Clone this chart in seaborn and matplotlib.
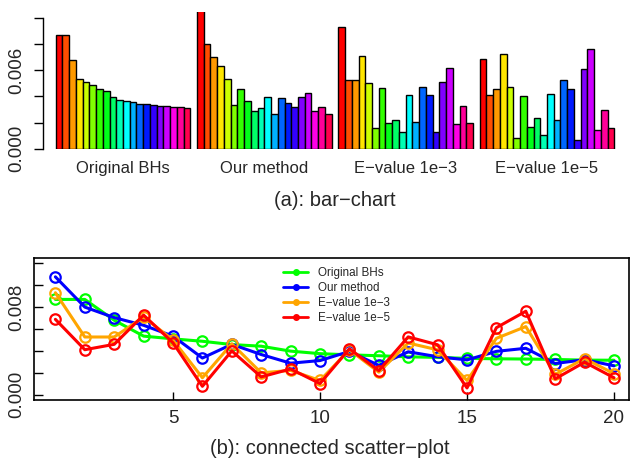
import colorsys
import matplotlib
matplotlib.use("Agg")
import matplotlib.pyplot as plt
from matplotlib.lines import Line2D
import numpy as np
import pandas as pd
import seaborn as sns

# ---------------- data ----------------
methods = ["Original BHs", "Our method", "E\u2212value 1e\u22123", "E\u2212value 1e\u22125"]
original_bhs = [8.70, 8.70, 6.80, 5.35, 5.10, 4.88, 4.58, 4.43, 3.98, 3.75,
                3.64, 3.56, 3.46, 3.41, 3.32, 3.28, 3.26, 3.22, 3.16, 3.15]
our_method = [10.76, 8.00, 7.04, 6.34, 5.35, 3.35, 4.60, 3.67, 2.88, 3.12,
              3.95, 2.68, 3.92, 3.47, 3.18, 3.96, 4.24, 2.85, 3.20, 2.64]
evalue_1e3 = [9.31, 5.27, 5.27, 7.09, 5.00, 1.55, 4.65, 2.00, 2.22, 1.30,
              4.10, 2.06, 4.72, 4.10, 1.30, 5.15, 6.22, 1.86, 3.30, 1.93]
evalue_1e5 = [6.88, 4.11, 4.60, 7.27, 4.74, 0.77, 4.00, 1.63, 2.35, 1.02,
              4.20, 2.20, 5.28, 4.56, 0.62, 6.12, 7.62, 1.45, 2.97, 1.55]
scale = 1e-3
index = list(range(1, 21))
line_colors = ["#00FF00", "#0000FF", "#FFA500", "#FF0000"]

bar_yticks = [0.000, 0.002, 0.004, 0.006, 0.008, 0.010]
bar_yticklabels = ["0.000", "", "", "0.006", "", ""]
line_yticks = [0.000, 0.002, 0.004, 0.006, 0.008, 0.010, 0.012]
line_yticklabels = ["0.000", "", "", "", "0.008", "", ""]
line_xticks = [5, 10, 15, 20]
title_a = "(a): bar\u2212chart"
title_b = "(b): connected scatter\u2212plot"

series = [original_bhs, our_method, evalue_1e3, evalue_1e5]

# ---------------- style ----------------
sns.set_style("white")
plt.rcParams["font.family"] = ["Liberation Sans", "DejaVu Sans"]
plt.rcParams["axes.unicode_minus"] = True

W, H = 630, 463
fig = plt.figure(figsize=(W / 100, H / 100), dpi=100)

def fx(px):
    return px / W

def fy(py):
    return 1 - py / H

# ---------------- bar chart ----------------
n = len(index)
bar_colors = [colorsys.hsv_to_rgb(i / n, 1, 1) for i in range(n)]
rows = []
for g, vals in enumerate(series):
    for i, v in enumerate(vals):
        rows.append({"pos": g * (n + 1) + i + 0.5, "value": v * scale,
                     "color_key": g * (n + 1) + i + 0.5, "cidx": i})
bar_df = pd.DataFrame(rows)
palette = {r["color_key"]: bar_colors[r["cidx"]] for r in rows}

unit = 6.73
x0 = 55.7
ax1 = fig.add_axes([fx(43), fy(148.5), fx(620 - 43), (148.5 - 12) / H])
sns.barplot(data=bar_df, x="pos", y="value", hue="color_key", palette=palette,
            native_scale=True, width=1.0, edgecolor="black", linewidth=1.0,
            saturation=1, errorbar=None, legend=False, ax=ax1)
ax1.set_xlim(-(x0 - 43) / unit, (620 - x0) / unit)
ax1.set_ylim(0, 0.0105)
for s in ["top", "right", "bottom"]:
    ax1.spines[s].set_visible(False)
ax1.spines["left"].set_bounds(0, 0.010)
ax1.spines["left"].set_linewidth(1.0)
ax1.spines["left"].set_color("black")
ax1.set_yticks(bar_yticks)
ax1.set_yticklabels(bar_yticklabels)
ax1.tick_params(axis="y", left=True, direction="out", length=6.5, width=1.0,
                color="black", labelsize=13.5, labelrotation=90, pad=6)
for lab in ax1.get_yticklabels():
    lab.set_va("center")
centers = [g * (n + 1) + n / 2 for g in range(len(methods))]
ax1.set_xticks(centers)
ax1.set_xticklabels(methods)
ax1.tick_params(axis="x", bottom=False, length=0, labelsize=12, pad=9)
ax1.set_xlabel("")
ax1.set_ylabel("")
ax1.patch.set_alpha(0)

fig.text(fx(335), fy(200), title_a, ha="center", va="center", fontsize=14.5)

# ---------------- connected scatter plot ----------------
ax2 = fig.add_axes([fx(34), fy(400), fx(629 - 34), (400 - 258) / H])
for vals, c in zip(series, line_colors):
    sns.lineplot(x=index, y=[v * scale for v in vals], color=c, lw=2.2,
                 marker="o", markersize=7.5, markerfacecolor="none",
                 markeredgecolor=c, markeredgewidth=1.6, ax=ax2)
ax2.set_xlim(1 - 21.4 / 29.4, 1 + (629 - 55.4) / 29.4)
ax2.set_ylim(-0.00048, 0.01248)
for s in ax2.spines.values():
    s.set_visible(True)
    s.set_color("black")
    s.set_linewidth(1.2)
ax2.set_yticks(line_yticks)
ax2.set_yticklabels(line_yticklabels)
ax2.set_xticks(line_xticks)
ax2.set_xticklabels([str(t) for t in line_xticks])
ax2.tick_params(axis="y", left=True, direction="in", length=6.5, width=1.0,
                color="black", labelsize=13.5, labelrotation=90, pad=6.5)
for lab in ax2.get_yticklabels():
    lab.set_va("center")
ax2.tick_params(axis="x", bottom=True, direction="in", length=6, width=1.0,
                color="black", labelsize=13.5, pad=7)
ax2.set_xlabel("")
ax2.set_ylabel("")

handles = [Line2D([0], [0], color=c, lw=2, marker="o", markersize=4,
                  markerfacecolor=c, markeredgecolor=c) for c in line_colors]
fig.legend(handles, methods, loc="upper left", bbox_to_anchor=(fx(283), fy(267)),
           bbox_transform=fig.transFigure, frameon=False, fontsize=8.4,
           handlelength=2.15, handletextpad=0.85, labelspacing=0.25,
           borderpad=0, borderaxespad=0)

fig.text(fx(330), fy(448), title_b, ha="center", va="center", fontsize=14.5)

fig.savefig("out.png", dpi=100)
